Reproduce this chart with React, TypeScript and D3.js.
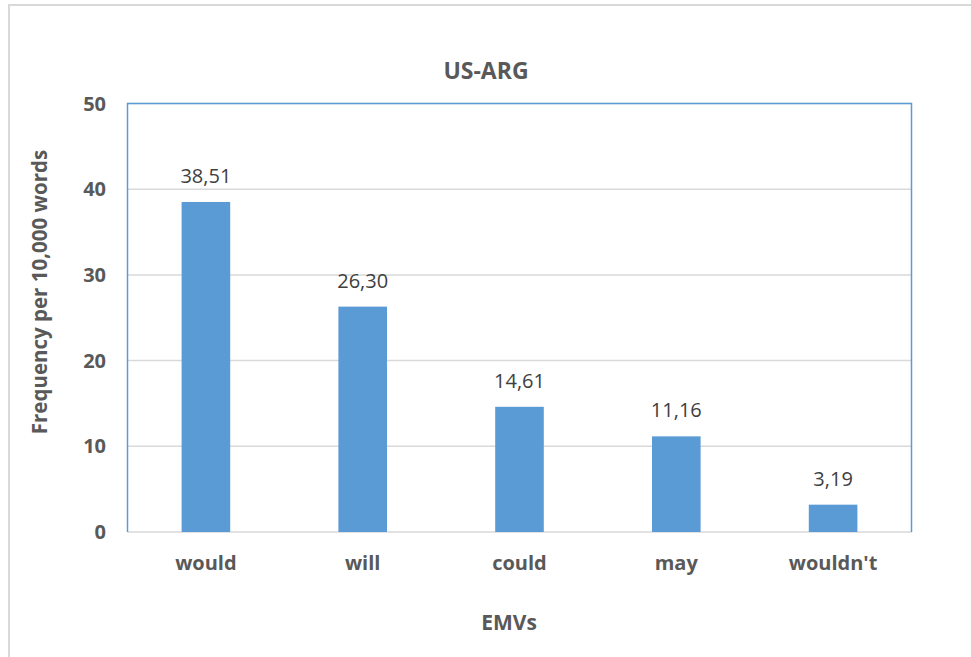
import React from "react";
import * as d3 from "d3";

const categories = ["would", "will", "could", "may", "wouldn't"];
const values = [38.51, 26.3, 14.61, 11.16, 3.19];
const yTicks = [0, 10, 20, 30, 40, 50];

const W = 971;
const H = 657;
const plot = { left: 127.5, right: 911.5, top: 103.5, bottom: 532 };
const FONT = "'Open Sans', Lato, sans-serif";

export default function App() {
  const x = d3
    .scaleBand<string>()
    .domain(categories)
    .range([plot.left, plot.right])
    .paddingInner(0.69)
    .paddingOuter(0.345);
  const y = d3.scaleLinear().domain([0, 50]).range([plot.bottom, plot.top]);
  const fmt = (v: number) => v.toFixed(2).replace(".", ",");
  const cx = (c: string) => (x(c) ?? 0) + x.bandwidth() / 2;

  return (
    <svg
      width={W}
      height={H}
      style={{ position: "absolute", left: 0, top: 0, background: "#fff" }}
      fontFamily={FONT}
    >
      <rect x={0} y={0} width={W} height={H} fill="#fff" />
      {/* chart frame */}
      <rect x={9} y={5} width={W + 20} height={H + 20} fill="none" stroke="#d9d9d9" strokeWidth={2} />

      <text x={486} y={79} textAnchor="middle" fontSize={23} fontWeight={700} fill="#595959">
        US-ARG
      </text>

      {/* gridlines */}
      {yTicks.map((t) => (
        <line key={t} x1={plot.left} x2={plot.right} y1={y(t)} y2={y(t)} stroke="#d9d9d9" strokeWidth={1.5} />
      ))}

      {/* plot area border */}
      <path
        d={`M${plot.left},${plot.bottom}V${plot.top}H${plot.right}V${plot.bottom}`}
        fill="none"
        stroke="#5b9bd5"
        strokeWidth={1.5}
      />

      {/* bars */}
      {categories.map((c, i) => (
        <rect
          key={c}
          x={x(c)}
          y={y(values[i])}
          width={x.bandwidth()}
          height={y(0) - y(values[i])}
          fill="#5b9bd5"
        />
      ))}

      {/* value labels */}
      {categories.map((c, i) => (
        <text key={c} x={cx(c)} y={y(values[i]) - 19} textAnchor="middle" fontSize={20} fill="#404040">
          {fmt(values[i])}
        </text>
      ))}

      {/* y tick labels */}
      {yTicks.map((t) => (
        <text key={t} x={106} y={y(t) + 7} textAnchor="end" fontSize={20} fontWeight={700} fill="#595959">
          {t}
        </text>
      ))}

      {/* category labels */}
      {categories.map((c) => (
        <text key={c} x={cx(c)} y={570} textAnchor="middle" fontSize={20} fontWeight={700} fill="#595959">
          {c}
        </text>
      ))}

      <text x={509} y={630} textAnchor="middle" fontSize={21} fontWeight={700} fill="#595959">
        EMVs
      </text>
      <text
        transform={`translate(47,292) rotate(-90)`}
        textAnchor="middle"
        fontSize={20.5}
        fontWeight={700}
        fill="#595959"
      >
        Frequency per 10,000 words
      </text>
    </svg>
  );
}
